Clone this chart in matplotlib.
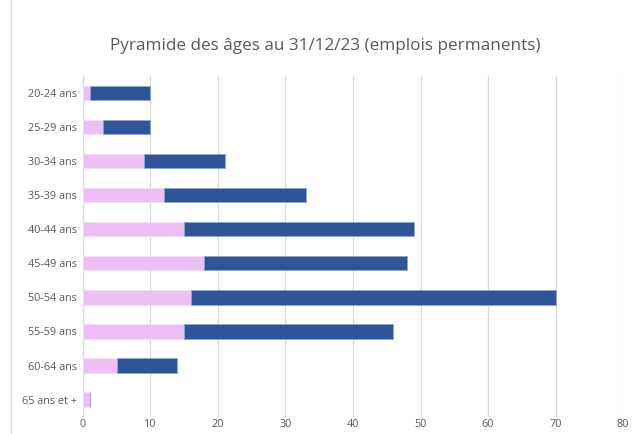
import matplotlib.pyplot as plt
from matplotlib.lines import Line2D

ages = ['20-24 ans', '25-29 ans', '30-34 ans', '35-39 ans', '40-44 ans',
        '45-49 ans', '50-54 ans', '55-59 ans', '60-64 ans', '65 ans et +']
femmes = [1, 3, 9, 12, 15, 18, 16, 15, 5, 1]
hommes = [9, 7, 12, 21, 34, 30, 54, 31, 9, 0]
xticks = [0, 10, 20, 30, 40, 50, 60, 70, 80]

plt.rcParams['font.family'] = ['Open Sans', 'DejaVu Sans']
fig = plt.figure(figsize=(6.32, 4.34), dpi=100)
ax = fig.add_axes([0.131, 0.04, 0.855, 0.785])

y = range(len(ages))
ax.barh(y, femmes, height=0.42, color='#ECC0F4', edgecolor='#F4DDF8', linewidth=0.6, zorder=3)
ax.barh(y, hommes, left=femmes, height=0.42, color='#2E5597', edgecolor='#8FA6CC', linewidth=0.6, zorder=3)

ax.set_xlim(0, 80)
ax.set_ylim(9.5, -0.5)
ax.set_xticks(xticks)
ax.set_yticks(list(y))
ax.set_yticklabels(ages)
ax.tick_params(length=0, labelsize=7.8, colors='#595959')
ax.tick_params(axis='y', pad=4)
ax.tick_params(axis='x', pad=2)
ax.grid(axis='x', color='#D9D9D9', linewidth=0.9, zorder=0)
for s in ax.spines.values():
    s.set_visible(False)
ax.axvline(0, color='#D9D9D9', linewidth=0.9, zorder=1)

fig.text(0.515, 0.895, 'Pyramide des âges au 31/12/23 (emplois permanents)',
         ha='center', va='center', fontsize=12.3, color='#595959')
fig.add_artist(Line2D([0.017, 0.017], [0, 1], color='#D9D9D9', linewidth=1))

fig.savefig('out.png', dpi=100)
